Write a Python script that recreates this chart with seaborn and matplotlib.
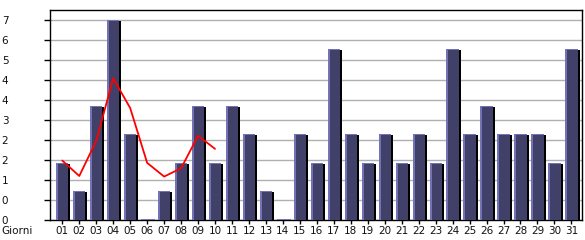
import matplotlib
matplotlib.use("Agg")
import matplotlib.pyplot as plt
import seaborn as sns
import pandas as pd
import numpy as np
from matplotlib.patches import Rectangle

days = [f"{d:02d}" for d in range(1, 32)]
values = [2, 1, 4, 7, 3, 0, 1, 2, 4, 2, 4, 3, 1, 0, 3, 2, 6, 3, 2, 3, 2, 3, 2, 6, 3, 4, 3, 3, 3, 2, 6]
trend_days = days[:10]
trend_values = [2.08, 1.54, 2.77, 4.96, 3.92, 2.0, 1.52, 1.81, 2.95, 2.49]
ytick_values = [round(0.7 * i, 1) for i in range(11)]
ytick_labels = [str(int(v)) for v in ytick_values]
xlabel = "Giorni"

NAVY = "#404068"
LAV = "#7272b4"

sns.set_theme(style="white")
plt.rcParams["font.family"] = ["DejaVu Sans"]

fig = plt.figure(figsize=(5.85, 2.40), dpi=100)
ax = fig.add_axes([50 / 585, 20 / 240, 532 / 585, 210 / 240])

df = pd.DataFrame({"day": days, "value": values})
sns.barplot(data=df, x="day", y="value", color=NAVY, width=0.72,
            saturation=1, edgecolor="none", linewidth=0, ax=ax, zorder=3)

px = 1 / 28.57  # one pixel in data units (y)
pxx = 1 / 16.97  # one pixel in x units
for p in list(ax.patches):
    x0 = p.get_x()
    w = p.get_width()
    h = p.get_height()
    if h > 0:
        ax.add_patch(Rectangle((x0 + w, 0), 2 * pxx, h - px, facecolor="black",
                               edgecolor="none", zorder=3))
        ax.add_patch(Rectangle((x0, 0), 2 * pxx, h, facecolor=LAV,
                               edgecolor="none", zorder=4))
        ax.add_patch(Rectangle((x0, h - px), w, px, facecolor=LAV,
                               edgecolor="none", zorder=4))
    else:
        ax.add_patch(Rectangle((x0, 0), w + 2 * pxx, 1.3 * px, facecolor=LAV,
                               edgecolor="none", zorder=4))

tdf = pd.DataFrame({"x": np.arange(len(trend_days)), "v": trend_values})
sns.lineplot(data=tdf, x="x", y="v", color="#ff0000", linewidth=1.3, ax=ax, zorder=5)

ax.set_xlim(-0.725, 30.625)
ax.set_ylim(0, 7.35)
ax.set_yticks(ytick_values)
ax.set_yticklabels(ytick_labels)
ax.yaxis.grid(True, color="#b0b0b0", linewidth=1.0, zorder=0)
ax.set_axisbelow(True)
ax.set_xlabel("")
ax.set_ylabel("")

for s in ax.spines.values():
    s.set_visible(True)
    s.set_color("black")
    s.set_linewidth(1.0)

ax.tick_params(axis="y", which="major", direction="out", length=4, width=1,
               color="black", pad=26, labelsize=7.5, labelcolor="#111111", left=True)
ax.tick_params(axis="x", which="major", direction="out", length=3, width=1,
               color="black", pad=1.5, labelsize=7.5, labelcolor="#111111", bottom=True)

fig.text(1 / 585, 1 - 231 / 240, xlabel, fontsize=7.5, color="#111111",
         ha="left", va="center")

fig.savefig("out.png", dpi=100, facecolor="white")
